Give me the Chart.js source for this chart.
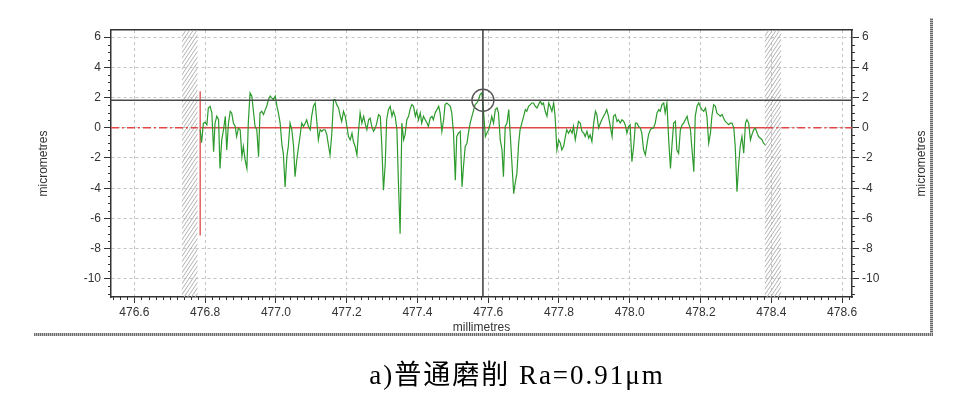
<!DOCTYPE html>
<html>
<head>
<meta charset="utf-8">
<script src="https://cdn.jsdelivr.net/npm/chart.js@4.4.1/dist/chart.umd.min.js"></script>
<style>
  html, body { margin: 0; padding: 0; background: #fff; }
  #wrap { position: relative; width: 976px; height: 393px; overflow: hidden; }
  #c { position: absolute; left: 0; top: 0; }
  #frameV { position: absolute; left: 930px; top: 18px; width: 3px; height: 318px;
    background: repeating-linear-gradient(0deg, #6a6a6a 0 1px, #bdbdbd 1px 2px); }
  #frameH { position: absolute; left: 34px; top: 333px; width: 899px; height: 3px;
    background: repeating-linear-gradient(90deg, #6a6a6a 0 1px, #bdbdbd 1px 2px); }
  #caption { position: absolute; left: 0; top: 360px; width: 1034px; text-align: center;
    font-family: "Liberation Serif", "Noto Sans CJK SC", serif; font-size: 27px; line-height: 30px;
    letter-spacing: 2px; color: #000; }
</style>
</head>
<body>
<div id="wrap">
  <canvas id="c" width="976" height="393"></canvas>
  <div id="frameV"></div>
  <div id="frameH"></div>
  <div id="caption">a)普通磨削 Ra=0.91μm</div>
</div>
<script>
// ---------------- data ----------------
const xTicks = [476.6, 476.8, 477.0, 477.2, 477.4, 477.6, 477.8, 478.0, 478.2, 478.4, 478.6];
const xTickLabels = ['476.6', '476.8', '477.0', '477.2', '477.4', '477.6', '477.8', '478.0', '478.2', '478.4', '478.6'];
const yTicks = [-10, -8, -6, -4, -2, 0, 2, 4, 6];
const yTickLabels = ['-10', '-8', '-6', '-4', '-2', '0', '2', '4', '6'];
const xRange = [476.534, 478.628];
const yRange = [-11.2, 6.47];
const xTitle = 'millimetres';
const yTitle = 'micrometres';

// profile (mm, micrometres)
const profileX = [
476.786,476.790,476.795,476.800,476.805,476.809,476.814,476.819,476.824,476.828,
476.833,476.838,476.842,476.847,476.852,476.857,476.861,476.866,476.871,476.875,
476.880,476.885,476.889,476.894,476.899,476.904,476.908,476.913,476.918,476.922,
476.927,476.932,476.937,476.941,476.946,476.951,476.955,476.960,476.965,476.970,
476.974,476.979,476.984,476.988,476.993,476.998,477.003,477.007,477.012,477.017,
477.021,477.026,477.031,477.035,477.040,477.045,477.050,477.054,477.059,477.064,
477.068,477.073,477.078,477.083,477.087,477.092,477.097,477.101,477.106,477.111,
477.116,477.120,477.125,477.130,477.134,477.139,477.144,477.149,477.153,477.158,
477.163,477.167,477.172,477.177,477.182,477.186,477.191,477.196,477.200,477.205,
477.210,477.215,477.219,477.224,477.229,477.233,477.238,477.243,477.248,477.252,
477.257,477.262,477.266,477.271,477.276,477.281,477.285,477.290,477.295,477.299,
477.304,477.309,477.313,477.318,477.323,477.328,477.332,477.337,477.342,477.346,
477.351,477.356,477.361,477.365,477.370,477.375,477.379,477.384,477.389,477.394,
477.398,477.403,477.408,477.412,477.417,477.422,477.427,477.431,477.436,477.441,
477.445,477.450,477.455,477.460,477.464,477.469,477.474,477.478,477.483,477.488,
477.493,477.497,477.502,477.507,477.511,477.516,477.521,477.526,477.530,477.535,
477.540,477.544,477.549,477.554,477.559,477.563,477.568,477.573,477.577,477.582,
477.587,477.592,477.596,477.601,477.606,477.610,477.615,477.620,477.625,477.629,
477.634,477.639,477.643,477.648,477.653,477.658,477.662,477.667,477.672,477.676,
477.681,477.686,477.690,477.695,477.700,477.705,477.709,477.714,477.719,477.723,
477.728,477.733,477.738,477.742,477.747,477.752,477.756,477.761,477.766,477.771,
477.775,477.780,477.785,477.789,477.794,477.799,477.804,477.808,477.813,477.818,
477.822,477.827,477.832,477.837,477.841,477.846,477.851,477.855,477.860,477.865,
477.870,477.874,477.879,477.884,477.888,477.893,477.898,477.903,477.907,477.912,
477.917,477.921,477.926,477.931,477.935,477.940,477.945,477.950,477.954,477.959,
477.964,477.968,477.973,477.978,477.983,477.987,477.992,477.997,478.001,478.006,
478.011,478.016,478.020,478.025,478.030,478.034,478.039,478.044,478.049,478.053,
478.058,478.063,478.067,478.072,478.077,478.082,478.086,478.091,478.096,478.100,
478.105,478.110,478.115,478.119,478.124,478.129,478.133,478.138,478.143,478.148,
478.152,478.157,478.162,478.166,478.171,478.176,478.181,478.185,478.190,478.195,
478.199,478.204,478.209,478.214,478.218,478.223,478.228,478.232,478.237,478.242,
478.246,478.251,478.256,478.261,478.265,478.270,478.275,478.280,478.284,478.289,
478.294,478.298,478.303,478.308,478.312,478.317,478.322,478.327,478.331,478.336,
478.341,478.345,478.350,478.355,478.360,478.364,478.369,478.374,478.378,478.383
];
const profileY = [
-0.13,-0.98,0.31,0.36,0.20,1.31,1.42,0.98,-1.58,0.31,
0.76,0.53,-2.69,-0.80,-0.13,0.76,-1.47,0.31,1.09,0.98,
0.31,0.09,-0.58,-0.02,-0.13,-1.91,-1.24,-2.13,-2.69,0.31,
2.31,2.09,0.98,0.09,-0.13,-1.91,0.98,1.09,0.87,1.20,
1.42,1.87,2.09,1.98,1.87,2.09,1.42,0.98,0.31,-1.13,
-1.69,-3.91,-1.91,-1.24,0.31,-0.13,-1.24,-3.24,-2.13,-1.24,
-0.58,0.31,0.09,0.31,0.53,0.09,-0.13,0.76,1.42,1.64,
0.31,-0.80,-0.13,-0.24,-0.13,-0.13,-0.47,-1.24,-1.80,-0.36,
1.87,1.87,1.53,1.31,0.76,0.42,1.09,0.76,0.20,-0.58,
-0.80,-0.36,-0.91,-1.24,-1.80,-0.36,0.98,0.31,0.76,0.31,
-0.13,0.53,0.64,0.09,-0.24,-0.02,0.31,0.87,0.76,-1.02,
-4.13,-2.36,0.53,1.20,1.42,0.76,1.09,0.76,-0.13,-3.47,
-7.02,0.31,-0.80,-0.47,0.53,0.76,1.20,1.53,1.42,0.76,
1.09,0.53,0.98,0.31,0.76,0.53,0.31,0.09,0.64,0.76,
0.53,0.98,1.20,1.42,0.98,-0.24,0.53,1.53,1.64,1.53,
1.42,0.98,-0.36,-3.47,-0.58,-0.36,-0.24,-3.91,-2.58,-1.24,
-1.02,-0.36,0.31,0.76,1.20,1.53,1.64,1.87,2.20,2.31,
0.98,-0.58,-0.36,-0.13,0.31,0.76,0.31,1.20,1.31,0.98,
-0.80,-1.47,-3.24,0.09,0.31,1.20,-0.36,-2.36,-4.36,-3.69,
-3.02,-1.02,-0.13,0.31,0.76,1.20,1.09,1.42,1.53,1.64,
1.64,1.42,1.31,1.53,1.76,1.53,1.64,1.09,0.76,1.64,
1.42,1.09,1.64,0.76,-1.47,-0.80,-1.02,-1.47,-1.24,-0.58,
-0.13,-0.36,-0.13,-0.36,0.09,-0.80,-0.13,0.42,0.31,-0.24,
-0.36,-0.58,-0.24,-0.69,-0.47,-0.91,0.31,1.09,0.87,-0.02,
0.31,0.53,0.76,0.98,1.20,0.76,0.09,-0.58,0.76,0.87,
0.42,0.53,0.31,0.53,0.42,0.20,-0.36,0.09,0.20,-2.24,
-1.24,0.31,0.31,0.09,-0.02,-0.36,-1.47,-1.80,-1.02,-0.47,
-0.13,-0.02,-0.02,0.31,0.98,1.20,1.09,1.53,1.64,0.98,
1.64,-0.80,-2.69,-1.24,0.31,0.42,-1.47,-1.69,-0.13,0.20,
0.31,0.53,0.76,0.31,-0.02,-1.47,-2.91,0.76,1.42,1.64,
1.42,1.20,1.09,1.31,0.76,-1.02,-0.36,0.76,1.53,1.42,
0.98,0.87,0.76,0.87,0.64,0.42,0.31,0.20,0.31,0.31,
-0.02,-1.24,-4.24,-2.36,-1.24,-0.58,-1.69,0.31,0.53,0.31,
-0.80,-0.47,-0.13,-0.02,-0.36,-0.58,-0.69,-0.80,-1.02,-1.13
];

// excluded (hatched) regions, mm
const hatchBands = [[476.734, 476.779], [478.381, 478.428]];
// mean line (y = 0) pieces
const meanLineX = [476.786, 478.383];
const meanDashLeftX = [476.534, 476.779];
const meanDashRightX = [478.383, 478.628];
// start marker (red vertical)
const startMarkerX = 476.786;
const startMarkerY = [2.42, -7.13];
// cursor crosshair
const cursorX = 477.585;
const cursorY = 1.82;

// ---------------- plugins ----------------
const hatchPlugin = {
  id: 'hatch',
  beforeDatasetsDraw(chart) {
    const { ctx, chartArea: { top, bottom }, scales: { x } } = chart;
    hatchBands.forEach(([a, b]) => {
      const x0 = x.getPixelForValue(a), x1 = x.getPixelForValue(b);
      const w = x1 - x0, rise = w * 1.5;
      ctx.save();
      ctx.beginPath(); ctx.rect(x0, top, w, bottom - top); ctx.clip();
      ctx.beginPath();
      ctx.strokeStyle = '#b2b2b2'; ctx.lineWidth = 1;
      for (let k = top - rise - 10; k < bottom + 10; k += 5.5) {
        ctx.moveTo(x0, k + rise); ctx.lineTo(x1, k);
      }
      ctx.stroke();
      ctx.restore();
    });
  }
};

const minorTickPlugin = {
  id: 'minorTicks',
  afterDraw(chart) {
    const { ctx, chartArea: { left, right, top, bottom }, scales: { x, y } } = chart;
    ctx.save();
    ctx.strokeStyle = '#333'; ctx.lineWidth = 1;
    ctx.beginPath();
    for (let n = Math.ceil(xRange[0] / 0.02); n <= Math.floor(xRange[1] / 0.02); n++) {
      if (n % 10 === 0) continue;
      const px = Math.round(x.getPixelForValue(n * 0.02)) + 0.5;
      ctx.moveTo(px, bottom); ctx.lineTo(px, bottom + 3);
    }
    for (let n = Math.ceil(yRange[0] / 0.5); n <= Math.floor(yRange[1] / 0.5); n++) {
      if (n % 4 === 0) continue;
      const py = Math.round(y.getPixelForValue(n * 0.5)) + 0.5;
      ctx.moveTo(left - 3, py); ctx.lineTo(left, py);
      ctx.moveTo(right, py); ctx.lineTo(right + 3, py);
    }
    ctx.stroke();
    // right-hand axis title (reads bottom-to-top like the left one)
    ctx.fillStyle = '#333';
    ctx.font = '12px "Liberation Sans", Arial, sans-serif';
    ctx.textAlign = 'center'; ctx.textBaseline = 'middle';
    ctx.translate(922, (top + bottom) / 2);
    ctx.rotate(-Math.PI / 2);
    ctx.fillText(yTitle, 0, 0);
    ctx.restore();
  }
};

// ---------------- chart ----------------
const pts = (xs, ys) => xs.map((v, i) => ({ x: v, y: ys[i] }));
const tickFont = { family: '"Liberation Sans", Arial, sans-serif', size: 12 };

new Chart(document.getElementById('c'), {
  type: 'line',
  data: {
    datasets: [
      { label: 'cursor', data: [{ x: cursorX, y: cursorY }], showLine: false,
        pointRadius: 11, pointHoverRadius: 11, pointBorderColor: '#555', pointBorderWidth: 1.3,
        pointBackgroundColor: 'rgba(0,0,0,0)', order: 0 },
      { label: 'cursorV', data: [{ x: cursorX, y: yRange[0] }, { x: cursorX, y: yRange[1] }],
        borderColor: '#3c3c3c', borderWidth: 1.5, pointRadius: 0, order: 0 },
      { label: 'cursorH', data: [{ x: xRange[0], y: cursorY }, { x: xRange[1], y: cursorY }],
        borderColor: '#4a4a4a', borderWidth: 1.5, pointRadius: 0, order: 0 },
      { label: 'profile', data: pts(profileX, profileY), borderColor: '#2c9a2c', borderWidth: 1.2,
        pointRadius: 0, tension: 0, order: 1 },
      { label: 'mean', data: [{ x: meanLineX[0], y: 0 }, { x: meanLineX[1], y: 0 }],
        borderColor: '#e04848', borderWidth: 1.3, pointRadius: 0, order: 2 },
      { label: 'meanL', data: [{ x: meanDashLeftX[0], y: 0 }, { x: meanDashLeftX[1], y: 0 }],
        borderColor: '#e04848', borderWidth: 1.3, borderDash: [8, 3, 2, 3], pointRadius: 0, order: 2 },
      { label: 'meanR', data: [{ x: meanDashRightX[0], y: 0 }, { x: meanDashRightX[1], y: 0 }],
        borderColor: '#e04848', borderWidth: 1.3, borderDash: [8, 3, 2, 3], pointRadius: 0, order: 2 },
      { label: 'start', data: [{ x: startMarkerX, y: startMarkerY[0] }, { x: startMarkerX, y: startMarkerY[1] }],
        borderColor: '#e04848', borderWidth: 1.3, pointRadius: 0, order: 2 }
    ]
  },
  options: {
    responsive: false,
    animation: false,
    events: [],
    layout: { padding: { left: 0, right: 0, top: 30, bottom: 56 } },
    plugins: { legend: { display: false }, tooltip: { enabled: false } },
    scales: {
      x: {
        type: 'linear', position: 'bottom', min: xRange[0], max: xRange[1],
        afterBuildTicks: (s) => { s.ticks = xTicks.map(v => ({ value: v })); },
        afterFit: (s) => { s.height = 40; },
        ticks: { autoSkip: false, maxRotation: 0, minRotation: 0, padding: 2, color: '#333', font: tickFont,
          callback: (v, i) => xTickLabels[i] },
        grid: { color: '#c4c4c4', lineWidth: 1, drawTicks: true, tickLength: 6, tickColor: '#333', tickWidth: 1 },
        border: { display: true, color: '#333', width: 1.5, dash: [3, 3] },
        title: { display: true, text: xTitle, color: '#333', font: tickFont, padding: { top: 0, bottom: 2 } }
      },
      xTop: {
        type: 'linear', position: 'top', min: xRange[0], max: xRange[1],
        afterFit: (s) => { s.height = 0; },
        ticks: { display: false },
        grid: { display: false },
        border: { display: true, color: '#333', width: 1.5 }
      },
      y: {
        type: 'linear', position: 'left', min: yRange[0], max: yRange[1],
        afterBuildTicks: (s) => { s.ticks = yTicks.map(v => ({ value: v })); },
        afterFit: (s) => { s.width = 111; },
        ticks: { autoSkip: false, padding: 3, color: '#333', font: tickFont,
          callback: (v, i) => yTickLabels[i] },
        grid: { color: '#c4c4c4', lineWidth: 1, drawTicks: true, tickLength: 7, tickColor: '#333', tickWidth: 1 },
        border: { display: true, color: '#333', width: 1.5, dash: [3, 3] },
        title: { display: true, text: yTitle, color: '#333', font: tickFont, padding: { top: 36, bottom: 0 } }
      },
      yRight: {
        type: 'linear', position: 'right', min: yRange[0], max: yRange[1],
        afterBuildTicks: (s) => { s.ticks = yTicks.map(v => ({ value: v })); },
        afterFit: (s) => { s.width = 124; },
        ticks: { autoSkip: false, padding: 3, color: '#333', font: tickFont,
          callback: (v, i) => yTickLabels[i] },
        grid: { drawOnChartArea: false, drawTicks: true, tickLength: 7, tickColor: '#333', tickWidth: 1 },
        border: { display: true, color: '#333', width: 1.5 }
      }
    }
  },
  plugins: [hatchPlugin, minorTickPlugin]
});
</script>
</body>
</html>
